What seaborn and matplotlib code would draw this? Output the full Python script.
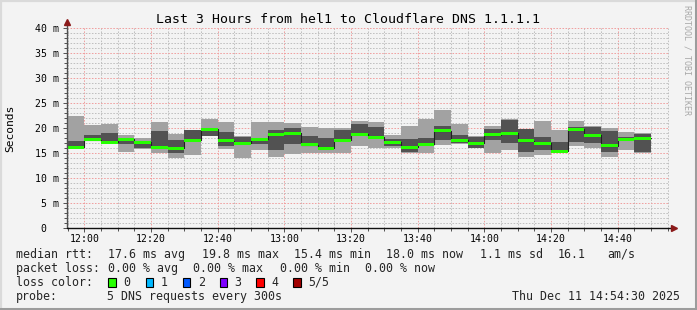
import numpy as np
import pandas as pd
import matplotlib
matplotlib.use("Agg")
import matplotlib.pyplot as plt
import seaborn as sns
from matplotlib.patches import Rectangle
from matplotlib.lines import Line2D
from matplotlib.ticker import MultipleLocator, FixedLocator

sns.set_theme(style="white")
plt.rcParams["font.family"] = ["DejaVu Sans Mono", "DejaVu Sans"]
plt.rcParams["lines.scale_dashes"] = False

# ---------------- data (ms) ----------------
slots = ["11:55", "12:00", "12:05", "12:10", "12:15", "12:20", "12:25", "12:30",
         "12:35", "12:40", "12:45", "12:50", "12:55", "13:00", "13:05", "13:10",
         "13:15", "13:20", "13:25", "13:30", "13:35", "13:40", "13:45", "13:50",
         "13:55", "14:00", "14:05", "14:10", "14:15", "14:20", "14:25", "14:30",
         "14:35", "14:40", "14:45"]
ping1 = [15.9, 17.5, 16.9, 15.3, 15.8, 15.0, 14.1, 14.7, 18.4, 15.8, 14.1, 15.7,
         14.3, 14.8, 15.1, 15.0, 15.0, 16.5, 16.1, 16.0, 15.0, 15.0, 16.7, 16.8,
         16.0, 15.1, 15.7, 14.3, 14.7, 15.1, 16.5, 16.1, 14.3, 15.7, 15.1]
ping2 = [16.1, 17.6, 17.0, 16.9, 16.0, 16.0, 15.1, 17.4, 18.5, 16.5, 16.7, 16.8,
         15.7, 16.8, 16.4, 15.8, 17.4, 18.6, 18.0, 16.4, 15.2, 16.6, 17.7, 17.1,
         16.1, 17.7, 17.1, 15.2, 15.7, 15.2, 17.3, 17.1, 15.3, 17.6, 15.3]
median = [16.2, 17.7, 17.2, 17.8, 17.2, 16.2, 16.0, 17.6, 19.8, 17.5, 17.0, 17.8,
          18.8, 19.0, 16.7, 16.0, 17.6, 18.8, 18.2, 17.2, 16.2, 16.8, 19.5, 17.6,
          17.0, 18.7, 19.0, 17.5, 17.0, 15.4, 19.8, 18.6, 16.5, 17.8, 18.0]
ping4 = [17.5, 18.7, 19.1, 18.0, 17.3, 19.5, 17.7, 19.6, 19.9, 19.3, 18.3, 18.0,
         19.7, 20.1, 18.5, 18.1, 19.7, 20.9, 20.3, 17.8, 17.9, 18.1, 20.5, 18.7,
         18.2, 19.9, 21.7, 19.8, 18.3, 17.3, 20.3, 20.3, 19.4, 18.3, 18.9]
ping5 = [22.5, 20.7, 20.9, 18.7, 18.0, 21.3, 18.9, 19.7, 21.8, 21.3, 18.5, 21.3,
         21.3, 21.0, 20.3, 20.1, 20.1, 21.5, 21.3, 18.7, 20.5, 21.9, 23.7, 20.9,
         18.4, 20.5, 21.9, 19.9, 21.5, 19.7, 21.5, 20.5, 20.1, 19.3, 19.1]

xtick_labels = ["12:00", "12:20", "12:40", "13:00", "13:20", "13:40", "14:00", "14:20", "14:40"]
ytick_values = [0, 5, 10, 15, 20, 25, 30, 35, 40]
ytick_labels = ["0  ", " 5 m", "10 m", "15 m", "20 m", "25 m", "30 m", "35 m", "40 m"]
loss_labels = ["0", "1", "2", "3", "4", "5/5"]
loss_colors = ["#26ff00", "#00b8ff", "#0059ff", "#7e00ff", "#ff0000", "#a10000"]


def to_min(s):
    h, m = s.split(":")
    return (int(h) - 12) * 60 + int(m)


step = 5
x = np.array([to_min(s) for s in slots], dtype=float)
xe = np.append(x, x[-1] + step)


def ext(a):
    a = np.asarray(a, dtype=float)
    return np.append(a, a[-1])


df = pd.DataFrame({"t": xe, "median": ext(median)})

# ---------------- figure ----------------
W, H = 697, 310
BG = "#F3F3F3"
fig = plt.figure(figsize=(W / 100, H / 100), dpi=100, facecolor=BG)
L, R, T, B = 67, 669, 28.3, 228.3
ax = fig.add_axes([L / W, 1 - B / H, (R - L) / W, (B - T) / H])
ax.set_facecolor(BG)

ax.set_xlim(-5.19, 175.4)
ax.set_ylim(0, 40)

# grid (dotted)
ax.xaxis.set_major_locator(FixedLocator([to_min(s) for s in xtick_labels]))
ax.xaxis.set_minor_locator(MultipleLocator(5))
ax.set_xticklabels(xtick_labels)
ax.yaxis.set_major_locator(FixedLocator(ytick_values))
ax.yaxis.set_minor_locator(MultipleLocator(1))
ax.set_yticklabels(ytick_labels)
ax.set_axisbelow(True)
ax.grid(which="minor", color="#c0c0c0", linewidth=0.72,
        linestyle=(0, (1.1, 1.1)))
ax.grid(which="major", color="#f0a0a0", linewidth=0.72,
        linestyle=(0, (1.1, 1.1)))

# smoke
ax.fill_between(xe, ext(ping1), ext(ping5), step="post", color="#a2a2a2",
                linewidth=0, zorder=2)
ax.fill_between(xe, ext(ping2), ext(ping4), step="post", color="#525252",
                linewidth=0, zorder=3)
# median thin line
sns.lineplot(data=df, x="t", y="median", drawstyle="steps-post", color="#202020",
             linewidth=0.8, ax=ax, zorder=4, legend=False)
# median loss-colored band
med = ext(median)
ax.fill_between(xe, med - 0.32, med + 0.32, step="post", color=loss_colors[0],
                linewidth=0, zorder=5)

ax.set_xlabel("")
ax.set_ylabel("")
for s in ax.spines.values():
    s.set_visible(False)

ax.tick_params(axis="both", which="both", direction="out", colors="#505050",
               labelcolor="black", width=0.7)
ax.tick_params(axis="x", which="major", length=3, pad=1.2, labelsize=7.1)
ax.tick_params(axis="x", which="minor", length=2.5)
ax.tick_params(axis="y", which="major", length=3, pad=3.0, labelsize=7.1)
ax.tick_params(axis="y", which="minor", length=2)
ax.tick_params(axis="x", which="both", bottom=True)
ax.tick_params(axis="y", which="both", left=True)

# axis lines with arrows
ax.add_line(Line2D([0, 0], [0, 1.025], transform=ax.transAxes, color="#505050",
                   linewidth=1, clip_on=False, zorder=6))
ax.add_line(Line2D([0, 1.005], [0, 0], transform=ax.transAxes, color="#101010",
                   linewidth=1, clip_on=False, zorder=6))
ax.plot([0], [1.03], marker="^", markersize=4.5, color="#8b1a1a",
        transform=ax.transAxes, clip_on=False, zorder=7)
ax.plot([1.008], [0], marker=">", markersize=4.5, color="#8b1a1a",
        transform=ax.transAxes, clip_on=False, zorder=7)


def fx(px):
    return px / W


def fy(py):
    return 1 - py / H


# title & labels
fig.text(fx(348), fy(19.5), "Last 3 Hours from hel1 to Cloudflare DNS 1.1.1.1",
         ha="center", va="center", fontsize=9.5, color="black")
fig.text(fx(10.5), fy(128), "Seconds", rotation=90, ha="center", va="center",
         fontsize=8.1, color="black")
fig.text(fx(687.5), fy(60), "RRDTOOL / TOBI OETIKER", rotation=270, ha="center",
         va="center", fontsize=6.0, color="#a8a8a8")

fs = 8.35
rows = [254.3, 268.3, 282.3, 296.3]
fig.text(fx(16), fy(rows[0]), "median rtt:", ha="left", va="center", fontsize=fs)
for px, s in [(107.5, "17.6 ms avg"), (202, "19.8 ms max"), (294, "15.4 ms min"),
              (386, "18.0 ms now"), (480, "1.1 ms sd"), (558, "16.1"), (607.5, "am/s")]:
    fig.text(fx(px), fy(rows[0]), s, ha="left", va="center", fontsize=fs)

fig.text(fx(16), fy(rows[1]), "packet loss:", ha="left", va="center", fontsize=fs)
for px, s in [(107.5, "0.00 % avg"), (193.5, "0.00 % max"), (279.5, "0.00 % min"),
              (365, "0.00 % now")]:
    fig.text(fx(px), fy(rows[1]), s, ha="left", va="center", fontsize=fs)

fig.text(fx(16), fy(rows[2]), "loss color:", ha="left", va="center", fontsize=fs)
box_x = [108.3, 145.7, 182.7, 219.5, 256.3, 293.3]
for bx, lab, col in zip(box_x, loss_labels, loss_colors):
    fig.add_artist(Rectangle((fx(bx), fy(rows[2] + 4.5)), 7.5 / W, 9 / H,
                             transform=fig.transFigure, facecolor=col,
                             edgecolor="black", linewidth=0.8))
    fig.text(fx(bx + 15), fy(rows[2]), lab, ha="left", va="center", fontsize=fs)

fig.text(fx(16), fy(rows[3]), "probe:", ha="left", va="center", fontsize=fs)
fig.text(fx(107.3), fy(rows[3]), "5 DNS requests every 300s", ha="left",
         va="center", fontsize=fs)
fig.text(fx(680), fy(rows[3]), "Thu Dec 11 14:54:30 2025", ha="right",
         va="center", fontsize=fs)

# image border (3D shade)
fig.add_artist(Line2D([0, 1], [1 - 1 / H, 1 - 1 / H], transform=fig.transFigure,
                      color="#dadada", linewidth=1.6))
fig.add_artist(Line2D([1 / W, 1 / W], [0, 1], transform=fig.transFigure,
                      color="#dadada", linewidth=1.6))
fig.add_artist(Line2D([0, 1], [1.5 / H, 1.5 / H], transform=fig.transFigure,
                      color="#9c9c9c", linewidth=2.2))
fig.add_artist(Line2D([1 - 1.5 / W, 1 - 1.5 / W], [0, 1], transform=fig.transFigure,
                      color="#9c9c9c", linewidth=2.2))

fig.savefig("out.png", dpi=100, facecolor=BG)
